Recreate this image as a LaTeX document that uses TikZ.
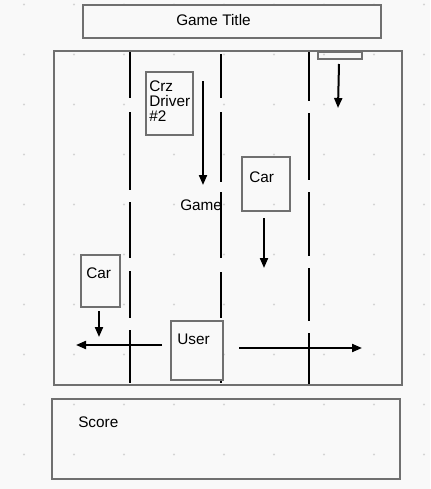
\documentclass[tikz,border=0pt]{standalone}
\usepackage{fontspec}
\setmainfont{Liberation Sans}
\usetikzlibrary{arrows.meta}
\definecolor{bgPaper}{RGB}{249,249,249}
\definecolor{boxGray}{RGB}{112,112,112}
\definecolor{dotGray}{RGB}{212,212,212}

\begin{document}
\begin{tikzpicture}[
    x=0.75pt, y=-0.75pt,
    font=\fontsize{11.5}{10.9}\selectfont,
    box/.style={rectangle, draw=boxGray, line width=1.3pt, inner sep=0pt},
    lbl/.style={anchor=base west, inner sep=0pt},
    lane/.style={line width=1.5pt, black},
    arr/.style={-{Triangle[length=7.5pt, width=6pt]}, line width=1.5pt, black}
]
\fill[bgPaper] (0,0) rectangle (430,489);
\foreach \i in {0,...,8} \foreach \j in {0,...,9} \fill[dotGray] (24+50*\i,4.5+50*\j) circle (0.8pt);

% lane markings
\foreach \ya/\yb in {52/98, 112/190, 202/258, 271/318, 330/383} \draw[lane] (130,\ya) -- (130,\yb);
\foreach \ya/\yb in {54/98, 112/182, 192/258, 272/318, 330/383} \draw[lane] (221,\ya) -- (221,\yb);
\foreach \ya/\yb in {52/101, 113/180, 192/256, 268/321, 333/385} \draw[lane] (309,\ya) -- (309,\yb);

\node[box, minimum width=223.5pt, minimum height=24.75pt] (title) at (232,21.5) {};
\node[box, minimum width=261pt, minimum height=250.5pt] (game) at (228,218) {};
\node[box, minimum width=33pt, minimum height=5.25pt] (slot) at (340,55.5) {};
\node[box, minimum width=35.25pt, minimum height=47.25pt] (crz) at (169.5,103.5) {};
\node[box, minimum width=36pt, minimum height=40.5pt] (carR) at (266,184) {};
\node[box, minimum width=29.25pt, minimum height=39pt] (carL) at (100.5,281) {};
\node[box, fill=bgPaper, minimum width=39pt, minimum height=44.25pt] (user) at (197,350.5) {};
\node[box, minimum width=261pt, minimum height=60pt] (score) at (226,439) {};

\node[lbl] (titleTxt) at (176,26) {Game Title};
\node[anchor=north west, inner sep=0pt, align=left] (crzTxt) at (149,81) {Crz\\Driver\\\#2};
\node[lbl] (gameTxt) at (180,210) {Game};
\node[lbl] (carRTxt) at (249,182) {Car};
\node[lbl] (carLTxt) at (86,278) {Car};
\node[lbl] (userTxt) at (177,344) {User};
\node[lbl] (scoreTxt) at (78,427) {Score};

\coordinate (slotA) at (339,64);  \coordinate (slotB) at (338,108);
\coordinate (crzA) at (203,81);   \coordinate (crzB) at (203,185);
\coordinate (carRA) at (264,218); \coordinate (carRB) at (264,268);
\coordinate (carLA) at (99,311);  \coordinate (carLB) at (99,337);
\coordinate (leftA) at (162,345); \coordinate (leftB) at (76,345);
\coordinate (rightA) at (239,348); \coordinate (rightB) at (362,348);

\foreach \a/\b in {slotA/slotB, crzA/crzB, carRA/carRB, carLA/carLB, leftA/leftB, rightA/rightB} \draw[arr] (\a) -- (\b);
\end{tikzpicture}
\end{document}
